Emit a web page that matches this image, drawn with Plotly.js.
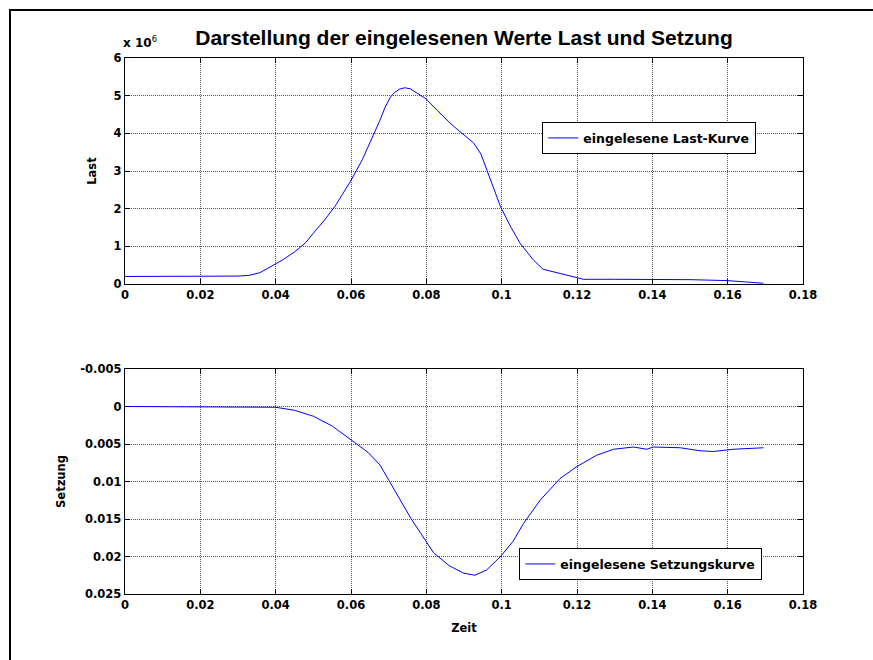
<!DOCTYPE html>
<html>
<head>
<meta charset="utf-8">
<script src="https://cdn.plot.ly/plotly-3.0.1.min.js"></script>
<style>html,body{margin:0;padding:0;background:#fff;overflow:hidden;}#chart{width:873px;height:660px;}</style>
</head>
<body>
<div id="chart"></div>
<script>
// Load curve (units of 10^6)
const lastTime = [0, 0.01, 0.02, 0.025, 0.03, 0.033, 0.0358, 0.0394, 0.042, 0.045, 0.048, 0.05, 0.053, 0.056, 0.06, 0.063, 0.0655, 0.0677, 0.069, 0.0704, 0.0715, 0.0728, 0.0743, 0.0758, 0.077, 0.0797, 0.083, 0.086, 0.0885, 0.0907, 0.0925, 0.0945, 0.096, 0.098, 0.0997, 0.1025, 0.1049, 0.1084, 0.111, 0.1155, 0.12, 0.1217, 0.13, 0.14, 0.15, 0.16, 0.1633, 0.1695];
const lastValues = [0.2, 0.2, 0.2, 0.2, 0.21, 0.23, 0.3, 0.5, 0.65, 0.85, 1.1, 1.35, 1.7, 2.1, 2.75, 3.3, 3.85, 4.35, 4.68, 4.95, 5.08, 5.17, 5.21, 5.18, 5.1, 4.93, 4.6, 4.3, 4.08, 3.91, 3.75, 3.45, 3.03, 2.5, 2.05, 1.5, 1.08, 0.64, 0.39, 0.28, 0.18, 0.125, 0.125, 0.125, 0.115, 0.09, 0.06, 0.02];
// Settlement curve
const setzTime = [0, 0.02, 0.038, 0.04, 0.045, 0.05, 0.055, 0.06, 0.0645, 0.0677, 0.072, 0.076, 0.0797, 0.0819, 0.086, 0.0898, 0.0929, 0.096, 0.0997, 0.103, 0.1058, 0.1102, 0.1155, 0.12, 0.1252, 0.1297, 0.135, 0.1385, 0.1403, 0.1474, 0.1527, 0.1562, 0.1615, 0.1695];
const setzValues = [0, 0, 0, 0.0001, 0.0005, 0.0013, 0.0026, 0.0044, 0.0061, 0.0078, 0.0115, 0.015, 0.0178, 0.0195, 0.0212, 0.0222, 0.0225, 0.0218, 0.02, 0.018, 0.0156, 0.0125, 0.0096, 0.008, 0.0065, 0.0057, 0.0054, 0.0057, 0.0054, 0.0055, 0.0059, 0.006, 0.0057, 0.0055];
// Tick labels
const xTickVals = [0, 0.02, 0.04, 0.06, 0.08, 0.1, 0.12, 0.14, 0.16, 0.18];
const xTickText = ["0", "0.02", "0.04", "0.06", "0.08", "0.1", "0.12", "0.14", "0.16", "0.18"];
const lastTickVals = [0, 1, 2, 3, 4, 5, 6];
const lastTickText = ["0", "1", "2", "3", "4", "5", "6"];
const setzTickVals = [-0.005, 0, 0.005, 0.01, 0.015, 0.02, 0.025];
const setzTickText = ["-0.005", "0", "0.005", "0.01", "0.015", "0.02", "0.025"];

const W = 873, H = 660;
const px = v => v / W, py = v => 1 - v / H;
const FONT = "Liberation Sans, Arial, sans-serif";
const WFONT = "DejaVu Sans, Verdana, sans-serif";
const tickFont = {family: WFONT, size: 11.5, color: "#000", weight: "bold"};
const GRID = {showgrid: true, gridcolor: "#555", griddash: "1px,1px", gridwidth: 1};

const traces = [
  {x: lastTime, y: lastValues, type: "scatter", mode: "lines", name: "<b>eingelesene Last-Kurve</b>",
   line: {color: "#0000ff", width: 1}, xaxis: "x", yaxis: "y", legend: "legend"},
  {x: setzTime, y: setzValues, type: "scatter", mode: "lines", name: "<b>eingelesene Setzungskurve</b>",
   line: {color: "#0000ff", width: 1}, xaxis: "x2", yaxis: "y2", legend: "legend2"}
];

function xax(anchor, withTitle) {
  const a = Object.assign({
    domain: [px(125), px(803)], range: [0, 0.18], anchor: anchor,
    tickvals: xTickVals, ticktext: xTickText, tickfont: tickFont,
    ticks: "inside", ticklen: 5, tickcolor: "#000", mirror: "allticks",
    showline: true, linecolor: "#000", linewidth: 1.3,
    zeroline: false, fixedrange: true, automargin: false
  }, GRID);
  if (withTitle) a.title = {text: "<b>Zeit</b>", font: {family: WFONT, size: 11.5, color: "#000"}, standoff: 13};
  return a;
}
function yax(anchor, dom, range, tv, tt, title, standoff) {
  return Object.assign({
    domain: dom, range: range, anchor: anchor,
    tickvals: tv, ticktext: tt, tickfont: tickFont,
    ticks: "inside", ticklen: 5, tickcolor: "#000", mirror: "allticks",
    showline: true, linecolor: "#000", linewidth: 1.3,
    zeroline: false, fixedrange: true, automargin: false,
    title: {text: "<b>" + title + "</b>", font: {family: WFONT, size: 11.5, color: "#000"}, standoff: standoff}
  }, GRID);
}

const layout = {
  width: W, height: H,
  margin: {l: 0, r: 0, t: 0, b: 0},
  paper_bgcolor: "#fff", plot_bgcolor: "#fff",
  font: {family: FONT, color: "#000"},
  showlegend: true,
  title: {text: "<b>Darstellung der eingelesenen Werte Last und Setzung</b>",
          font: {family: FONT, size: 21, color: "#000"},
          x: px(464), xanchor: "center", y: py(38), yanchor: "middle"},
  xaxis: xax("y", false),
  yaxis: yax("x", [py(284), py(58)], [0, 6], lastTickVals, lastTickText, "Last", 14),
  xaxis2: xax("y2", true),
  yaxis2: yax("x2", [py(594), py(369)], [0.025, -0.005], setzTickVals, setzTickText, "Setzung", 12),
  legend: {x: px(542), y: py(122), xanchor: "left", yanchor: "top",
           bordercolor: "#000", borderwidth: 1.3, bgcolor: "#fff",
           font: {family: WFONT, size: 12.5, color: "#000"}, itemwidth: 30},
  legend2: {x: px(519), y: py(548), xanchor: "left", yanchor: "top",
           bordercolor: "#000", borderwidth: 1.3, bgcolor: "#fff",
           font: {family: WFONT, size: 12.5, color: "#000"}, itemwidth: 30},
  annotations: [
    {text: "<b>x 10</b><sup>6</sup>", xref: "paper", yref: "paper", x: px(121), y: py(42),
     xanchor: "left", yanchor: "middle", showarrow: false, font: {family: WFONT, size: 12, color: "#000"}}
  ],
  shapes: [
    {type: "line", xref: "paper", yref: "paper", x0: px(9), x1: 1, y0: py(10), y1: py(10),
     line: {color: "#000", width: 2}},
    {type: "line", xref: "paper", yref: "paper", x0: px(10), x1: px(10), y0: 0, y1: py(9),
     line: {color: "#000", width: 2}}
  ]
};

Plotly.newPlot("chart", traces, layout, {displayModeBar: false, staticPlot: true});
</script>
</body>
</html>
